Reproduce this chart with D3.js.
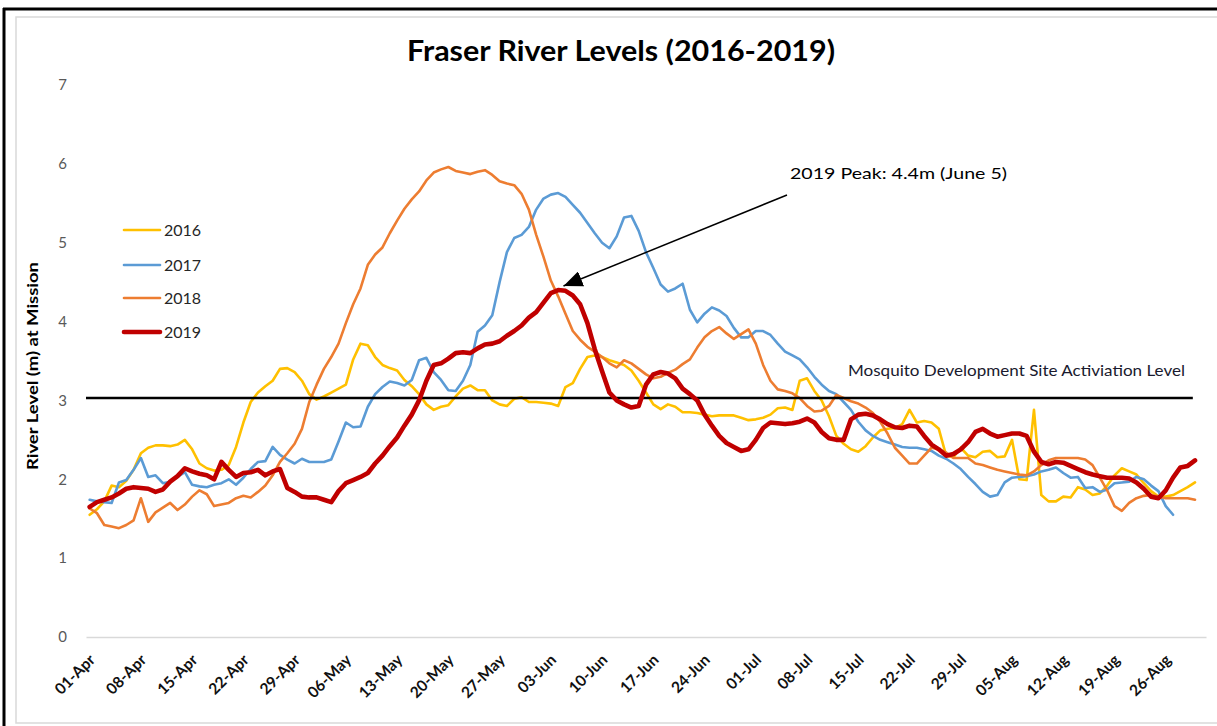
<!DOCTYPE html>
<html>
<head>
<meta charset="utf-8">
<script src="https://cdn.jsdelivr.net/npm/d3@7"></script>
<style>
  html, body { margin: 0; padding: 0; background: #fff; }
  svg { display: block; font-family: Lato, "Open Sans", sans-serif; }
</style>
</head>
<body>
<svg id="chart" width="1217" height="726"></svg>
<script>
// ---- data (daily values from 01-Apr) ----
const dayCount = 153;
const tickLabels = ["01-Apr","08-Apr","15-Apr","22-Apr","29-Apr","06-May","13-May","20-May","27-May","03-Jun","10-Jun","17-Jun","24-Jun","01-Jul","08-Jul","15-Jul","22-Jul","29-Jul","05-Aug","12-Aug","19-Aug","26-Aug"];
const yTicks = [0,1,2,3,4,5,6,7];
const seriesNames = ["2016","2017","2018","2019"];
const seriesColors = ["#FFC000","#5B9BD5","#ED7D31","#C00000"];
const seriesWidths = [2.6,2.6,2.6,4.6];

const level2016 = [
1.55,1.62,1.72,1.92,1.90,1.98,2.12,2.33,2.40,2.43,
2.43,2.42,2.44,2.50,2.38,2.20,2.14,2.11,2.12,2.18,
2.41,2.72,2.98,3.10,3.18,3.25,3.40,3.41,3.36,3.25,
3.08,3.01,3.05,3.10,3.15,3.20,3.52,3.72,3.70,3.55,
3.45,3.41,3.38,3.26,3.18,3.08,2.95,2.88,2.92,2.94,
3.05,3.15,3.19,3.13,3.13,3.00,2.95,2.93,3.02,3.04,
2.98,2.98,2.97,2.96,2.93,3.17,3.22,3.40,3.55,3.57,
3.55,3.51,3.48,3.45,3.38,3.25,3.10,2.95,2.89,2.95,
2.92,2.85,2.85,2.84,2.82,2.80,2.81,2.81,2.81,2.78,
2.75,2.76,2.78,2.82,2.90,2.91,2.88,3.25,3.28,3.12,
3.00,2.80,2.55,2.45,2.38,2.35,2.42,2.53,2.62,2.64,
2.65,2.70,2.88,2.72,2.74,2.72,2.64,2.30,2.28,2.40,
2.30,2.28,2.35,2.36,2.28,2.29,2.50,2.00,1.99,2.88,
1.80,1.72,1.72,1.78,1.77,1.90,1.87,1.80,1.82,1.92,
2.05,2.14,2.10,2.06,1.95,1.85,1.78,1.78,1.80,1.85,
1.90,1.96];

const level2017 = [
1.74,1.72,1.71,1.70,1.96,1.99,2.12,2.27,2.03,2.05,
1.95,1.97,2.03,2.09,1.93,1.91,1.90,1.93,1.95,2.00,
1.93,2.02,2.13,2.22,2.23,2.41,2.31,2.25,2.20,2.26,
2.22,2.22,2.22,2.25,2.48,2.72,2.66,2.67,2.92,3.08,
3.17,3.24,3.22,3.19,3.26,3.51,3.54,3.36,3.26,3.13,
3.12,3.25,3.45,3.87,3.95,4.08,4.50,4.88,5.06,5.10,
5.20,5.42,5.56,5.61,5.63,5.58,5.48,5.38,5.25,5.12,
5.00,4.93,5.08,5.32,5.34,5.15,4.88,4.68,4.47,4.38,
4.42,4.48,4.15,3.99,4.10,4.18,4.14,4.07,3.92,3.80,
3.80,3.88,3.88,3.83,3.72,3.62,3.57,3.52,3.42,3.30,
3.20,3.12,3.08,2.98,2.88,2.73,2.62,2.55,2.50,2.47,
2.44,2.41,2.40,2.40,2.38,2.36,2.30,2.26,2.20,2.13,
2.03,1.94,1.84,1.78,1.80,1.96,2.02,2.03,2.04,2.06,
2.10,2.12,2.15,2.08,2.02,2.03,1.89,1.90,1.84,1.87,
1.95,1.96,1.97,2.03,2.00,1.92,1.85,1.66,1.55];

const level2018 = [
1.63,1.57,1.42,1.40,1.38,1.42,1.48,1.76,1.46,1.58,
1.64,1.70,1.61,1.68,1.78,1.86,1.81,1.66,1.68,1.70,
1.76,1.79,1.77,1.84,1.92,2.05,2.22,2.33,2.45,2.64,
2.98,3.20,3.40,3.55,3.72,3.98,4.22,4.42,4.72,4.85,
4.94,5.12,5.28,5.43,5.55,5.65,5.79,5.89,5.93,5.96,
5.91,5.89,5.87,5.90,5.92,5.86,5.78,5.75,5.73,5.62,
5.42,5.10,4.82,4.52,4.32,4.10,3.88,3.77,3.68,3.62,
3.55,3.47,3.42,3.51,3.47,3.40,3.33,3.28,3.30,3.35,
3.39,3.46,3.52,3.67,3.80,3.88,3.93,3.85,3.78,3.84,
3.90,3.72,3.45,3.25,3.14,3.12,3.09,3.03,2.93,2.86,
2.87,2.93,3.07,3.03,2.99,2.96,2.91,2.84,2.73,2.58,
2.40,2.30,2.20,2.20,2.30,2.40,2.38,2.34,2.27,2.27,
2.27,2.20,2.18,2.15,2.12,2.10,2.08,2.06,2.05,2.10,
2.18,2.24,2.27,2.27,2.27,2.27,2.25,2.18,2.02,1.86,
1.66,1.60,1.70,1.76,1.79,1.80,1.78,1.76,1.76,1.76,
1.76,1.74];

const level2019 = [
1.65,1.71,1.74,1.77,1.82,1.88,1.90,1.89,1.88,1.84,
1.87,1.97,2.04,2.14,2.10,2.07,2.05,2.00,2.22,2.12,
2.03,2.08,2.09,2.12,2.05,2.10,2.13,1.89,1.84,1.78,
1.77,1.77,1.74,1.71,1.85,1.95,1.99,2.03,2.08,2.20,
2.30,2.42,2.53,2.68,2.82,3.00,3.25,3.45,3.47,3.53,
3.60,3.61,3.60,3.66,3.71,3.72,3.75,3.82,3.88,3.95,
4.05,4.12,4.24,4.36,4.40,4.39,4.33,4.22,3.98,3.65,
3.37,3.10,3.00,2.95,2.91,2.93,3.20,3.33,3.36,3.34,
3.28,3.15,3.08,3.00,2.82,2.68,2.55,2.46,2.41,2.36,
2.38,2.50,2.65,2.72,2.71,2.70,2.71,2.73,2.77,2.72,
2.60,2.52,2.50,2.50,2.76,2.82,2.83,2.81,2.76,2.70,
2.66,2.65,2.68,2.67,2.55,2.44,2.38,2.30,2.32,2.38,
2.47,2.60,2.64,2.58,2.54,2.56,2.58,2.58,2.55,2.35,
2.22,2.19,2.22,2.21,2.17,2.13,2.09,2.06,2.04,2.02,
2.02,2.02,2.01,1.96,1.88,1.78,1.76,1.86,2.02,2.15,
2.17,2.24];

const thresholdLevel = 3.03;
const thresholdLabel = "Mosquito Development Site Activiation Level";
const peakLabel = "2019 Peak: 4.4m (June 5)";
const peakDay = 65;   // June 5
const peakValue = 4.4;
const titleText = "Fraser River Levels (2016-2019)";
const yTitle = "River Level (m) at Mission";

const allSeries = [level2016, level2017, level2018, level2019];

// ---- drawing ----
const svg = d3.select("#chart");

// outer frame
svg.append("rect").attr("x",16).attr("y",17).attr("width",1230).attr("height",706)
  .attr("fill","#fff").attr("stroke","#d9d9d9").attr("stroke-width",1.5);
svg.append("line").attr("x1",4).attr("x2",4).attr("y1",8).attr("y2",726)
  .attr("stroke","#000").attr("stroke-width",3);
svg.append("line").attr("x1",3).attr("x2",1217).attr("y1",9).attr("y2",9)
  .attr("stroke","#000").attr("stroke-width",3);

const x = d3.scaleLinear().domain([-0.5, dayCount - 0.5]).range([86, 1206]);
const y = d3.scaleLinear().domain([0, 7]).range([637, 85]);

// title
svg.append("text").attr("x", 621).attr("y", 61).attr("text-anchor","middle")
  .attr("font-size", 28).attr("font-weight", 700).attr("fill","#000")
  .attr("textLength", 428).attr("lengthAdjust","spacingAndGlyphs")
  .text(titleText);

// y axis
const yAxis = svg.append("g").attr("transform","translate(86,0)")
  .call(d3.axisLeft(y).tickValues(yTicks).tickSize(0).tickPadding(19).tickFormat(d3.format("d")));
yAxis.select(".domain").remove();
yAxis.selectAll("text").attr("font-size", 15).attr("fill","#595959")
  .attr("font-family","Lato, 'Open Sans', sans-serif");

svg.append("text").attr("transform","translate(38,366) rotate(-90)")
  .attr("text-anchor","middle").attr("font-size",16).attr("font-weight",700).attr("fill","#000")
  .attr("textLength",208).attr("lengthAdjust","spacingAndGlyphs")
  .text(yTitle);

// x axis
const tickDays = d3.range(0, dayCount, 7).slice(0, tickLabels.length);
const xAxis = svg.append("g").attr("transform","translate(0,637)")
  .call(d3.axisBottom(x).tickValues(tickDays).tickSize(0).tickFormat((d,i)=>tickLabels[i]));
xAxis.select(".domain").attr("stroke","#d9d9d9").attr("stroke-width",1.5);
xAxis.selectAll("text")
  .attr("font-size",15.5).attr("font-weight",700).attr("fill","#111")
  .attr("font-family","Lato, 'Open Sans', sans-serif")
  .attr("text-anchor","end").attr("x",0).attr("y",0).attr("dy","0.35em")
  .attr("transform","translate(2,20) rotate(-45)");

// series
const line = d3.line().x((d,i)=>x(i)).y(d=>y(d)).curve(d3.curveLinear);
const plot = svg.append("g");
allSeries.forEach((s, k) => {
  if (k === 3) {
    plot.append("line")
      .attr("x1", x(-0.5)).attr("x2", x(150.7))
      .attr("y1", y(thresholdLevel)).attr("y2", y(thresholdLevel))
      .attr("stroke","#000").attr("stroke-width",2.6);
  }
  plot.append("path").datum(s)
    .attr("fill","none").attr("stroke",seriesColors[k]).attr("stroke-width",seriesWidths[k])
    .attr("stroke-linejoin","round").attr("stroke-linecap","round")
    .attr("d", line);
});

svg.append("text").attr("x",848).attr("y",376).attr("font-size",15).attr("fill","#1a1a2e")
  .attr("textLength",337).attr("lengthAdjust","spacingAndGlyphs")
  .text(thresholdLabel);

// legend
const legend = svg.append("g");
const legendY = [230, 265, 298, 332];
seriesNames.forEach((n,k) => {
  legend.append("line").attr("x1",124).attr("x2",160).attr("y1",legendY[k]).attr("y2",legendY[k])
    .attr("stroke",seriesColors[k]).attr("stroke-width",seriesWidths[k]).attr("stroke-linecap","round");
  legend.append("text").attr("x",164).attr("y",legendY[k]).attr("dy","0.35em")
    .attr("font-size",16).attr("fill","#262626").text(n);
});

// annotation
svg.append("defs").append("marker").attr("id","arrow")
  .attr("viewBox","0 0 10 10").attr("refX",10).attr("refY",5)
  .attr("markerWidth",19).attr("markerHeight",16).attr("markerUnits","userSpaceOnUse")
  .attr("orient","auto").attr("preserveAspectRatio","none")
  .append("path").attr("d","M0,0 L10,5 L0,10 Z").attr("fill","#000");
const tipX = x(peakDay) - 2, tipY = y(peakValue) - 4;
svg.append("line").attr("x1",787).attr("y1",195).attr("x2",tipX).attr("y2",tipY)
  .attr("stroke","#000").attr("stroke-width",1.5).attr("marker-end","url(#arrow)");
svg.append("text").attr("x",790).attr("y",179).attr("font-size",16).attr("fill","#000")
  .attr("textLength",217).attr("lengthAdjust","spacingAndGlyphs")
  .text(peakLabel);
</script>
</body>
</html>
